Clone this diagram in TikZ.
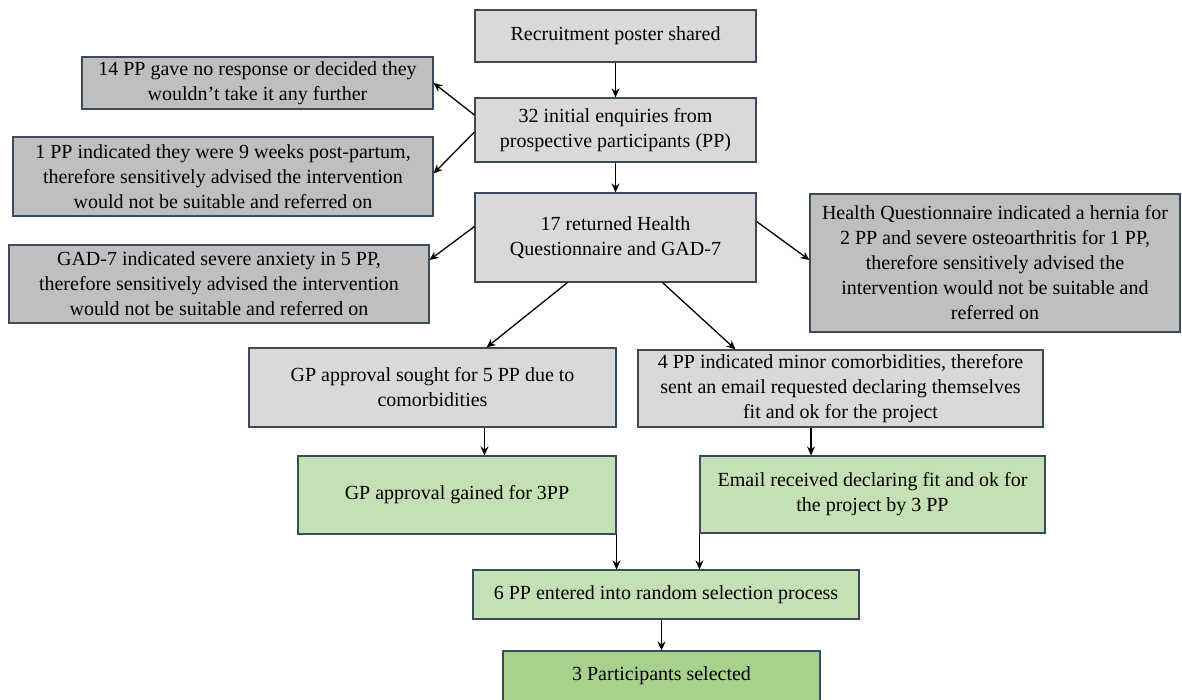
\documentclass[tikz,border=0pt]{standalone}
\usepackage{fontspec}
\setmainfont{Liberation Serif}
\usepackage{tikz}
\usetikzlibrary{arrows.meta}
\usetikzlibrary{calc}
\usetikzlibrary{positioning}

\definecolor{boxline}{HTML}{3C4A5E}
\definecolor{lightgrey}{HTML}{D9D9D9}
\definecolor{darkgrey}{HTML}{BFBFBF}
\definecolor{lightgreen}{HTML}{C5E0B4}
\definecolor{darkgreen}{HTML}{A9D18E}

\begin{document}
\begin{tikzpicture}
    [   x = 1pt, y = -1pt
    ,   > = {Stealth[length=9pt,width=8pt]}
    ,   box/.style = {draw=boxline, line width=1.1pt, align=center, inner sep=0pt,
                      font=\fontsize{20}{25}\selectfont}
    ,   stepbox/.style = {box, fill=lightgrey}
    ,   exitbox/.style = {box, fill=darkgrey}
    ,   okbox/.style = {box, fill=lightgreen}
    ,   endbox/.style = {box, fill=darkgreen}
    ,   link/.style = {->, line width=1.3pt}
    ]
    \useasboundingbox (0,0) rectangle (1182,700);

    \node[stepbox, minimum width=281pt, minimum height=52pt] (R) at (615.5,36)
    {Recruitment poster shared};
    \node[stepbox, minimum width=281pt, minimum height=64pt] (E) at (615.5,130)
    {32 initial enquiries from\\prospective participants (PP)};
    \node[exitbox, minimum width=351pt, minimum height=52pt] (N) at (257.5,83)
    {14 PP gave no response or decided they\\wouldn’t take it any further};
    \node[exitbox, minimum width=420pt, minimum height=79pt] (P) at (223,176.5)
    {1 PP indicated they were 9 weeks post-partum,\\therefore sensitively advised the intervention\\would not be suitable and referred on};
    \node[stepbox, minimum width=281pt, minimum height=89pt] (H) at (615.5,237.5)
    {17 returned Health\\Questionnaire and GAD-7};
    \node[exitbox, minimum width=420pt, minimum height=78pt] (G) at (219,284)
    {GAD-7 indicated severe anxiety in 5 PP,\\therefore sensitively advised the intervention\\would not be suitable and referred on};
    \node[exitbox, minimum width=370pt, minimum height=138pt] (Q) at (995,263)
    {Health Questionnaire indicated a hernia for\\2 PP and severe osteoarthritis for 1 PP,\\therefore sensitively advised the\\intervention would not be suitable and\\referred on};
    \node[stepbox, minimum width=367pt, minimum height=79pt] (S) at (432.5,387.5)
    {GP approval sought for 5 PP due to\\comorbidities};
    \node[stepbox, minimum width=405pt, minimum height=77pt] (M) at (840.5,388.5)
    {4 PP indicated minor comorbidities, therefore\\sent an email requested declaring themselves\\fit and ok for the project};
    \node[okbox, minimum width=318pt, minimum height=78pt] (A) at (457,495)
    {GP approval gained for 3PP};
    \node[okbox, minimum width=345pt, minimum height=77pt] (C) at (872.5,494.5)
    {Email received declaring fit and ok for\\the project by 3 PP};
    \node[okbox, minimum width=386pt, minimum height=49pt] (F) at (666,594.5)
    {6 PP entered into random selection process};
    \node[endbox, minimum width=317pt, minimum height=50pt] (T) at (661.5,676)
    {3 Participants selected};

    \draw[link] (R) -- (E);
    \draw[link] ([yshift=15pt]E.west) -- (N.east);
    \draw[link] ([yshift=-2pt]E.west) -- ([yshift=3pt]P.east);
    \draw[link] (E) -- (H);
    \draw[link] ([yshift=11pt]H.west) -- ([yshift=24pt]G.east);
    \draw[link] ([yshift=16pt]H.east) -- ([yshift=3pt]Q.west);
    \draw[link] ([xshift=-48pt]H.south) -- ([xshift=54pt]S.north);
    \draw[link] ([xshift=47pt]H.south) -- ([xshift=-105pt]M.north);
    \draw[link] ([xshift=52pt]S.south) -- ([xshift=52pt]S.south |- A.north);
    \draw[link] ([xshift=-29.5pt]M.south) -- ([xshift=-29.5pt]M.south |- C.north);
    \draw[link] (A.south east) -- (A.south east |- F.north);
    \draw[link] (C.south west) -- (C.south west |- F.north);
    \draw[link] (T.north |- F.south) -- (T.north);
\end{tikzpicture}
\end{document}
